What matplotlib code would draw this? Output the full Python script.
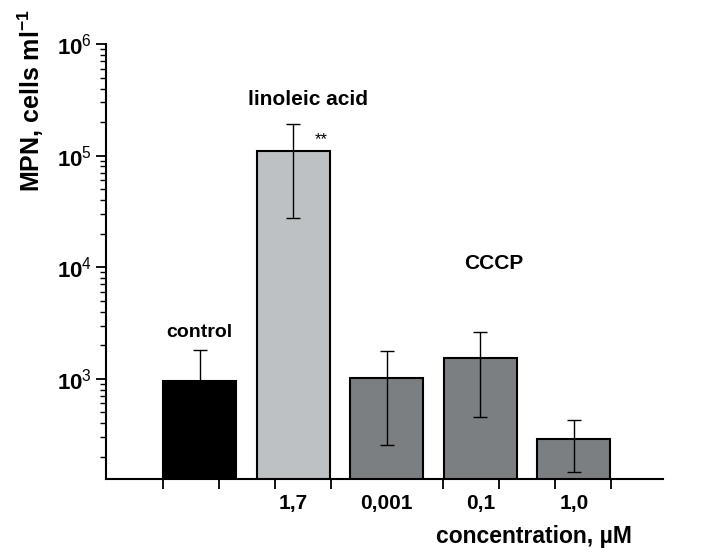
import numpy as np
import matplotlib
matplotlib.use('Agg')
import matplotlib.pyplot as plt
from matplotlib.ticker import FixedLocator, LogLocator, NullFormatter

plt.rcParams['font.family'] = ['Liberation Sans', 'DejaVu Sans']
plt.rcParams['mathtext.fontset'] = 'custom'
plt.rcParams['mathtext.rm'] = 'Liberation Sans'
plt.rcParams['mathtext.bf'] = 'Liberation Sans:bold'

# data
groups = ['control', 'linoleic acid', 'CCCP', 'CCCP', 'CCCP']
tick_labels = ['', '1,7', '0,001', '0,1', '1,0']
mpn = [960, 111000, 1020, 1520, 290]
err_high = [1815, 194000, 1775, 2610, 428]
err_low = [500, 27800, 256, 457, 146]
colors = ['black', '#bdc1c3', '#7b7f81', '#7b7f81', '#7b7f81']

x = np.arange(len(mpn))
yerr = [np.array(mpn) - np.array(err_low), np.array(err_high) - np.array(mpn)]

fig = plt.figure(figsize=(7.04, 5.59), dpi=100)
ax = fig.add_axes([0.1506, 0.143, 0.791, 0.778])

width = 0.78
ax.bar(x, mpn, width=width, color=colors, edgecolor='black', linewidth=1.5, zorder=2)
ax.errorbar(x, mpn, yerr=yerr, fmt='none', ecolor='black', elinewidth=1,
            capsize=5, capthick=1, zorder=3)

ax.set_yscale('log')
ax.set_ylim(126, 1e6)
ax.set_xlim(-1.0, 4.95)

ax.spines['top'].set_visible(False)
ax.spines['right'].set_visible(False)
ax.spines['left'].set_linewidth(1.5)
ax.spines['bottom'].set_linewidth(1.5)

# y ticks
ax.yaxis.set_major_locator(LogLocator(base=10, numticks=10))
ax.yaxis.set_minor_locator(LogLocator(base=10, subs=np.arange(2, 10), numticks=10))
ax.yaxis.set_minor_formatter(NullFormatter())
ax.set_yticks([1e3, 1e4, 1e5, 1e6])
ax.set_yticklabels([r'$\mathbf{10}^{3}$', r'$\mathbf{10}^{4}$',
                    r'$\mathbf{10}^{5}$', r'$\mathbf{10}^{6}$'], fontsize=16)
ax.tick_params(axis='y', which='major', length=7, width=1.3, direction='out', pad=3)
ax.tick_params(axis='y', which='minor', length=4, width=1.0, direction='out')

# x ticks: labels at bar centres, tick marks evenly across the bars
ax.set_xticks(x)
ax.set_xticklabels(tick_labels, fontsize=15, fontweight='bold')
ax.tick_params(axis='x', which='major', length=0, pad=11)
ax.xaxis.set_minor_locator(FixedLocator(np.linspace(x[0] - width / 2 - 0.005,
                                                    x[-1] + width / 2 + 0.005, 9)))
ax.tick_params(axis='x', which='minor', length=7, width=1.3, direction='out')

ax.set_ylabel(r'MPN, cells ml$^{\mathbf{-1}}$', fontsize=18, fontweight='bold')
ax.yaxis.set_label_coords(-0.108, 0.87)
ax.set_xlabel(u'concentration, \u00b5M', fontsize=16.5, fontweight='bold', ha='right')
ax.xaxis.set_label_coords(0.944, -0.105)

# group annotations
ax.text(x[0], 2200, 'control', ha='center', va='bottom', fontsize=14, fontweight='bold')
ax.text(x[1] + 0.16, 2.6e5, 'linoleic acid', ha='center', va='bottom', fontsize=15,
        fontweight='bold')
ax.text(x[1] + 0.3, 1.2e5, '**', ha='center', va='bottom', fontsize=12)
ax.text(x[3] + 0.14, 8800, 'CCCP', ha='center', va='bottom', fontsize=15, fontweight='bold')

fig.savefig('out.png', dpi=100)
